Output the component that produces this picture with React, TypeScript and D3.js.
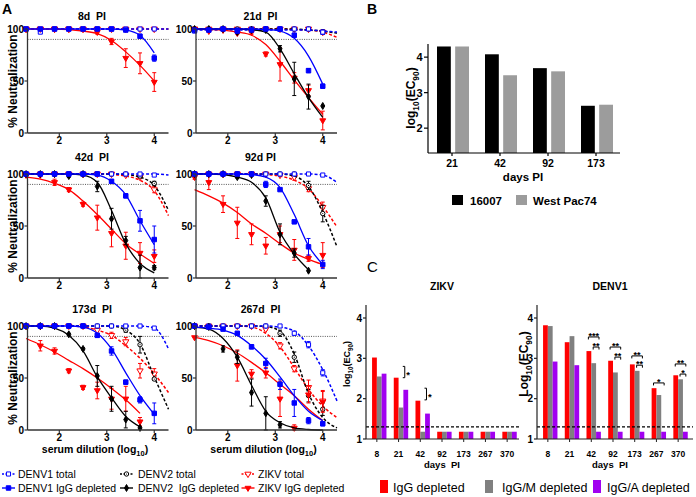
import React from 'react';
import * as d3 from 'd3';

const _ = null;
const FONT = "'Liberation Sans', Arial, Helvetica, sans-serif";

// ---------- Panel A data ----------
const DIL = [1.3, 1.6, 1.9, 2.2, 2.5, 2.8, 3.1, 3.4, 3.7, 4.0];
const FIT_X = [1.3, 1.6, 1.9, 2.2, 2.5, 2.8, 3.1, 3.4, 3.7, 4.0, 4.3];
const X_TICKS_A = [2, 3, 4];
const Y_TICKS_A = [0, 50, 100];

// 8d PI
const d8_D1tot = [100, 97, 100, 100, 100, 100, 100, 100, 100, 100];
const d8_D1tot_fit = [100, 100, 100, 100, 100, 100, 100, 100, 100, 100, 100];
const d8_D1igg = [100, 100, 100, 100, 100, 100, 100, 99, 93, 72];
const d8_D1igg_err = [0, 0, 0, 0, 0, 0, 0, 1, 2, 3];
const d8_D1igg_fit = [100, 100, 100, 100, 100, 100, 100, 99, 94, 77, _];
const d8_ZKtot = [100, 100, 100, 100, 100, 100, 100, 100, 100, 100];
const d8_ZKtot_fit = [100, 100, 100, 100, 100, 100, 100, 100, 100, 100, 100];
const d8_ZKigg = [100, 100, 100, 100, 100, 97, 88, 72, 67, 49];
const d8_ZKigg_err = [0, 0, 0, 0, 0, 2, 3, 9, 10, 9];
const d8_ZKigg_fit = [100, 100, 100, 99.5, 98, 95.5, 89, 78, 65, 50, _];

// 21d PI
const d21_D1tot = [98, 99, 100, 99, 100, 100, 100, 100, 100, 97];
const d21_D1tot_err = [0, 0, 0, 0, 0, 0, 0, 0, 0, 2];
const d21_D1tot_fit = [99, 99, 99, 99, 99, 99, 99, 99, 99, 98, 97];
const d21_D1igg = [99, 99, 100, 98, 99, 100, 100, 94, 60, 45];
const d21_D1igg_err = [1, 1, 0, 1, 0, 0, 0, 2, 2, 2];
const d21_D1igg_fit = [100, 100, 100, 100, 100, 99.5, 98, 91, 74, 47, _];
const d21_D2tot = [100, 100, 100, 100, 100, 100, 100, 100, 100, 97];
const d21_D2tot_err = [0, 0, 0, 0, 0, 0, 0, 0, 0, 2];
const d21_D2tot_fit = [100, 100, 100, 100, 100, 100, 100, 100, 99, 98, 96];
const d21_D2igg = [100, 100, 100, 97, 99, 99, 81, 52, 35, 26];
const d21_D2igg_err = [0, 0, 0, 1, 0, 0, 3, 16, 12, 0];
const d21_D2igg_fit = [100, 100, 100, 100, 99.5, 97, 81, 57, 34, 15, _];
const d21_ZKtot = [100, 100, 100, 100, 100, 100, 100, 100, 100, 97];
const d21_ZKtot_err = [0, 0, 0, 0, 0, 0, 0, 0, 0, 2];
const d21_ZKtot_fit = [100, 100, 100, 100, 100, 100, 100, 99.5, 99, 97, 92];
const d21_ZKigg = [100, 98, 99, 96, 97, 76, 66, 53, 41, 12];
const d21_ZKigg_err = [0, 1, 1, 1, 2, 2, 16, 5, 5, 9];
const d21_ZKigg_fit = [100, 99.5, 99, 97, 94, 85, 69, 51, 34, 18, _];

// 42d PI
const d42_D1tot = [100, 100, 100, 100, 100, 100, 100, 100, 100, 99];
const d42_D1tot_fit = [100, 100, 100, 100, 100, 100, 100, 100, 100, 100, 99];
const d42_D1igg = [100, 100, 100, 100, 100, 100, 93, 79, 55, 37];
const d42_D1igg_err = [0, 0, 0, 0, 0, 0, 1, 2, 10, 13];
const d42_D1igg_fit = [100, 100, 100, 100, 100, 99, 93, 80, 55, 32, _];
const d42_D2tot = [100, 100, 100, 100, 100, 100, 100, 100, 98, 91];
const d42_D2tot_err = [0, 0, 0, 0, 0, 0, 0, 0, 1, 2];
const d42_D2tot_fit = [100, 100, 100, 100, 100, 100, 100, 99.5, 97, 89, 65];
const d42_D2igg = [100, 100, 100, 98, 100, 88, 57, 36, 10, 10];
const d42_D2igg_err = [0, 0, 0, 1, 0, 5, 10, 4, 12, 2];
const d42_D2igg_fit = [100, 100, 100, 100, 99, 92, 65, 33, 14, 5, _];
const d42_ZKtot = [100, 100, 100, 100, 100, 100, 100, 99, 97, 85];
const d42_ZKtot_err = [0, 0, 0, 0, 0, 0, 0, 0, 1, 3];
const d42_ZKtot_fit = [100, 100, 100, 100, 100, 100, 99.5, 98, 94, 84, 60];
const d42_ZKigg = [99, 99, 92, 85, 71, 58, 43, 31, 24, 21];
const d42_ZKigg_err = [0, 0, 3, 2, 2, 12, 13, 13, 10, 6];
const d42_ZKigg_fit = [97, 95, 91, 85, 74, 61, 47, 33, 23, 14, _];

// 92d PI
const d92_D1tot = [100, 100, 100, 100, 100, 100, 100, 100, 100, 99];
const d92_D1tot_fit = [100, 100, 100, 100, 100, 100, 100, 100, 100, 99, 92];
const d92_D1igg = [100, 100, 100, 100, 100, 90, 85, 54, 30, 13];
const d92_D1igg_err = [0, 0, 0, 0, 0, 3, 1, 1, 8, 4];
const d92_D1igg_fit = [100, 100, 100, 100, 99.5, 97, 87, 61, 31, 13, _];
const d92_D2tot = [100, 100, 100, 100, 100, 100, 100, 100, 89, 62];
const d92_D2tot_err = [0, 0, 0, 0, 0, 0, 0, 0, 4, 8];
const d92_D2tot_fit = [100, 100, 100, 100, 100, 100, 100, 98, 88, 63, 30];
const d92_D2igg = [100, 100, 100, 97, 99, 74, 42, 24, 7, _];
const d92_D2igg_err = [0, 0, 0, 1, 0, 5, 10, 4, 0, 0];
const d92_D2igg_fit = [100, 100, 99.5, 97, 92, 77, 44, 23, 8, _, _];
const d92_ZKtot = [100, 100, 100, 100, 100, 100, 99, 97, 86, 68];
const d92_ZKtot_err = [0, 0, 0, 0, 0, 0, 0, 3, 3, 5];
const d92_ZKtot_fit = [100, 100, 100, 100, 100, 99.5, 98, 94, 86, 69, 49];
const d92_ZKigg = [97, 92, 71, 53, 42, 31, 42, 27, 19, 22];
const d92_ZKigg_err = [2, 7, 8, 15, 10, 8, 8, 10, 3, 12];
const d92_ZKigg_fit = [85, 79, 72, 63, 52, 43, 33, 24, 18, 13, _];

// 173d PI
const d173_D1tot = [100, 100, 100, 100, 100, 100, 100, 100, 100, 98];
const d173_D1tot_fit = [100, 100, 100, 100, 100, 100, 100, 100, 100, 98, 78];
const d173_D1igg = [100, 100, 100, 100, 100, 91, 76, 46, 29, 16];
const d173_D1igg_err = [0, 0, 0, 0, 0, 2, 4, 2, 3, 10];
const d173_D1igg_fit = [100, 100, 100, 100, 99, 93, 78, 55, 33, 15, _];
const d173_D2tot = [100, 100, 100, 100, 100, 100, 100, 96, 82, 49];
const d173_D2tot_err = [0, 0, 0, 0, 0, 0, 0, 2, 8, 1];
const d173_D2tot_fit = [100, 100, 100, 100, 100, 100, 100, 96, 83, 51, 20];
const d173_D2igg = [100, 100, 100, 92, 78, 52, 30, 10, 2, _];
const d173_D2igg_err = [0, 0, 0, 1, 1, 10, 12, 8, 1, 0];
const d173_D2igg_fit = [100, 100, 98, 91, 76, 51, 31, 13, 3, _, _];
const d173_ZKtot = [100, 100, 100, 100, 100, 96, 91, 85, 57, 54];
const d173_ZKtot_err = [0, 0, 0, 2, 0, 0, 3, 4, 7, 5];
const d173_ZKtot_fit = [100, 100, 100, 100, 99, 96, 91, 81, 69, 54, 36];
const d173_ZKigg = [_, 81, 76, 57, 41, 38, 30, 30, 8, _];
const d173_ZKigg_err = [0, 5, 3, 2, 2, 8, 10, 12, 4, 0];
const d173_ZKigg_fit = [88, 82, 75, 67, 59, 50, 40, 29, 16, _, _];

// 267d PI
const d267_D1tot = [100, 100, 100, 100, 100, 100, 100, 93, 82, 55];
const d267_D1tot_err = [0, 0, 0, 0, 0, 0, 0, 2, 3, 3];
const d267_D1tot_fit = [100, 100, 100, 100, 100, 100, 99, 95, 81, 58, 28];
const d267_D1igg = [100, 99, 97, 93, 80, 64, 44, 26, 9, 6];
const d267_D1igg_err = [0, 1, 1, 1, 2, 5, 5, 13, 3, 2];
const d267_D1igg_fit = [99, 98, 96, 91, 81, 68, 51, 33, 18, 9, _];
const d267_D2tot = [100, 100, 100, 100, 100, 100, 93, 70, 33, 20];
const d267_D2tot_err = [0, 0, 0, 0, 0, 0, 3, 5, 6, 6];
const d267_D2tot_fit = [100, 100, 100, 100, 100, 99.5, 95, 73, 35, 12, 2];
const d267_D2igg = [100, 99, 78, 70, 36, 16, 5, _, _, _];
const d267_D2igg_err = [0, 0, 3, 6, 13, 16, 3, 0, 0, 0];
const d267_D2igg_fit = [99, 97, 88, 70, 43, 18, 7, 2, 0.5, 0, _];
const d267_ZKtot = [100, 100, 100, 100, 100, 97, 81, 59, 41, 28];
const d267_ZKtot_err = [0, 0, 0, 0, 0, 1, 3, 3, 7, 10];
const d267_ZKtot_fit = [100, 100, 100, 100, 99, 93, 80, 60, 39, 23, 12];
const d267_ZKigg = [89, _, _, 62, 54, 55, 30, 2, 34, 27];
const d267_ZKigg_err = [0, 0, 0, 15, 4, 5, 17, 3, 8, 10];
const d267_ZKigg_fit = [89, 86, 81, 74, 65, 55, 44, 33, 20, 9, _];

const LEGEND_A = [
  ['D1tot', 'DENV1 total'], ['D1igg', 'DENV1 IgG depleted'],
  ['D2tot', 'DENV2 total'], ['D2igg', 'DENV2  IgG depleted'],
  ['ZKtot', 'ZIKV total'], ['ZKigg', 'ZIKV IgG depleted'],
];

// ---------- Panel B data ----------
const B_DAYS = ['21', '42', '92', '173'];
const B_16007 = [4.3, 4.08, 3.69, 2.63];
const B_WESTPAC74 = [4.3, 3.49, 3.6, 2.66];
const B_TICKS = [2, 3, 4];

// ---------- Panel C data ----------
const C_DAYS = ['8', '21', '42', '92', '173', '267', '370'];
const C_TICKS = [1, 2, 3, 4];
const C_LOD = 1.3;
const ZIKV_IGG = [3.02, 2.52, 1.95, 1.18, 1.18, 1.18, 1.18];
const ZIKV_IGGM = [2.55, 1.78, 1.18, 1.18, 1.18, 1.18, 1.18];
const ZIKV_IGGA = [2.62, 2.22, 1.63, 1.18, 1.18, 1.18, 1.18];
const DENV1_IGG = [3.82, 3.4, 3.18, 2.94, 2.85, 2.26, 2.58];
const DENV1_IGGM = [3.8, 3.55, 2.88, 2.65, 2.69, 2.09, 2.48];
const DENV1_IGGA = [2.92, 2.83, 1.18, 1.18, 1.18, 1.18, 1.18];
const ZIKV_SIG = [
  { cat: '21', lo: 2.52, hi: 2.8, label: '*' },
  { cat: '42', lo: 1.97, hi: 2.26, label: '*' },
];
const DENV1_SIG = [
  { cat: '42', from: 0, to: 2, y: 3.53, label: '***' },
  { cat: '42', from: 1, to: 2, y: 3.28, label: '**' },
  { cat: '92', from: 0, to: 2, y: 3.28, label: '**' },
  { cat: '92', from: 1, to: 2, y: 3.03, label: '**' },
  { cat: '173', from: 0, to: 2, y: 3.06, label: '**' },
  { cat: '173', from: 1, to: 2, y: 2.83, label: '**' },
  { cat: '267', from: 0, to: 2, y: 2.39, label: '*' },
  { cat: '370', from: 0, to: 2, y: 2.86, label: '**' },
  { cat: '370', from: 1, to: 2, y: 2.61, label: '*' },
];
const C_GROUPS = ['IgG depleted', 'IgG/M depleted', 'IgG/A depleted'];
const C_COLORS = ['#ff0000', '#808080', '#a100f0'];

// ---------- styles & layout ----------
const STYLE: Record<string, any> = {
  D1tot: { color: '#0000ff', dashed: true, sym: 'square', filled: false },
  D1igg: { color: '#0000ff', dashed: false, sym: 'square', filled: true },
  D2tot: { color: '#000000', dashed: true, sym: 'circle', filled: false },
  D2igg: { color: '#000000', dashed: false, sym: 'diamond', filled: true },
  ZKtot: { color: '#ff0000', dashed: true, sym: 'tri', filled: false },
  ZKigg: { color: '#ff0000', dashed: false, sym: 'tri', filled: true },
};
const DRAW_ORDER = ['ZKtot', 'D2tot', 'D1tot', 'ZKigg', 'D2igg', 'D1igg'];

const COLS = [{ x0: 27.5, x1: 168.5 }, { x0: 196, x1: 337 }];
const ROWS = [
  { top: 29, bot: 133, title: 19.5 },
  { top: 174, bot: 278, title: 161 },
  { top: 326, bot: 430, title: 313 },
];

const PANELS = [
  { title: '8d  PI', col: 0, row: 0, s: {
    D1tot: [d8_D1tot, null, d8_D1tot_fit], D1igg: [d8_D1igg, d8_D1igg_err, d8_D1igg_fit],
    ZKtot: [d8_ZKtot, null, d8_ZKtot_fit], ZKigg: [d8_ZKigg, d8_ZKigg_err, d8_ZKigg_fit] } },
  { title: '21d  PI', col: 1, row: 0, s: {
    D1tot: [d21_D1tot, d21_D1tot_err, d21_D1tot_fit], D1igg: [d21_D1igg, d21_D1igg_err, d21_D1igg_fit],
    D2tot: [d21_D2tot, d21_D2tot_err, d21_D2tot_fit], D2igg: [d21_D2igg, d21_D2igg_err, d21_D2igg_fit],
    ZKtot: [d21_ZKtot, d21_ZKtot_err, d21_ZKtot_fit], ZKigg: [d21_ZKigg, d21_ZKigg_err, d21_ZKigg_fit] } },
  { title: '42d  PI', col: 0, row: 1, s: {
    D1tot: [d42_D1tot, null, d42_D1tot_fit], D1igg: [d42_D1igg, d42_D1igg_err, d42_D1igg_fit],
    D2tot: [d42_D2tot, d42_D2tot_err, d42_D2tot_fit], D2igg: [d42_D2igg, d42_D2igg_err, d42_D2igg_fit],
    ZKtot: [d42_ZKtot, d42_ZKtot_err, d42_ZKtot_fit], ZKigg: [d42_ZKigg, d42_ZKigg_err, d42_ZKigg_fit] } },
  { title: '92d PI', col: 1, row: 1, s: {
    D1tot: [d92_D1tot, null, d92_D1tot_fit], D1igg: [d92_D1igg, d92_D1igg_err, d92_D1igg_fit],
    D2tot: [d92_D2tot, d92_D2tot_err, d92_D2tot_fit], D2igg: [d92_D2igg, d92_D2igg_err, d92_D2igg_fit],
    ZKtot: [d92_ZKtot, d92_ZKtot_err, d92_ZKtot_fit], ZKigg: [d92_ZKigg, d92_ZKigg_err, d92_ZKigg_fit] } },
  { title: '173d  PI', col: 0, row: 2, s: {
    D1tot: [d173_D1tot, null, d173_D1tot_fit], D1igg: [d173_D1igg, d173_D1igg_err, d173_D1igg_fit],
    D2tot: [d173_D2tot, d173_D2tot_err, d173_D2tot_fit], D2igg: [d173_D2igg, d173_D2igg_err, d173_D2igg_fit],
    ZKtot: [d173_ZKtot, d173_ZKtot_err, d173_ZKtot_fit], ZKigg: [d173_ZKigg, d173_ZKigg_err, d173_ZKigg_fit] } },
  { title: '267d  PI', col: 1, row: 2, s: {
    D1tot: [d267_D1tot, d267_D1tot_err, d267_D1tot_fit], D1igg: [d267_D1igg, d267_D1igg_err, d267_D1igg_fit],
    D2tot: [d267_D2tot, d267_D2tot_err, d267_D2tot_fit], D2igg: [d267_D2igg, d267_D2igg_err, d267_D2igg_fit],
    ZKtot: [d267_ZKtot, d267_ZKtot_err, d267_ZKtot_fit], ZKigg: [d267_ZKigg, d267_ZKigg_err, d267_ZKigg_fit] } },
];

function Marker({ kind, cx, cy }: { kind: string; cx: number; cy: number }) {
  const st = STYLE[kind];
  const fill = st.filled ? st.color : '#ffffff';
  if (st.sym === 'circle') {
    return <g><circle cx={cx} cy={cy} r={2.2} fill="#fff" stroke={st.color} strokeWidth={1} /><circle cx={cx} cy={cy} r={0.6} fill={st.color} /></g>;
  }
  let type: any = d3.symbolSquare;
  let size = st.filled ? 20 : 17;
  let rot = '';
  if (st.sym === 'diamond') { type = d3.symbolDiamond; size = 14; }
  if (st.sym === 'tri') { type = d3.symbolTriangle; size = st.filled ? 15 : 17; rot = ' rotate(180)'; }
  const p = d3.symbol().type(type).size(size)() as string;
  return <path d={p} transform={`translate(${cx},${cy})${rot}`} fill={fill} stroke={st.color} strokeWidth={1} />;
}

function LogEC({ fs }: { fs: number }) {
  const d = fs * 0.3;
  return (
    <>
      <tspan>log</tspan>
      <tspan fontSize={fs * 0.7} dy={d}>10</tspan>
      <tspan dy={-d}>(EC</tspan>
      <tspan fontSize={fs * 0.7} dy={d}>90</tspan>
      <tspan dy={-d}>)</tspan>
    </>
  );
}

function NeutPanel({ p }: { p: any }) {
  const c = COLS[p.col];
  const r = ROWS[p.row];
  const x = d3.scaleLinear().domain([1.33, 4.3]).range([c.x0, c.x1]);
  const y = d3.scaleLinear().domain([0, 100]).range([r.bot, r.top]);
  const line = d3.line<[number, number | null]>()
    .defined((d) => d[1] != null)
    .x((d) => x(d[0]))
    .y((d) => y(d[1] as number))
    .curve(d3.curveMonotoneX);
  const axisColor = '#333';
  return (
    <g>
      <text x={(c.x0 + c.x1) / 2 - 6} y={r.title} textAnchor="middle" fontSize={10.5} fontWeight="bold" style={{ whiteSpace: 'pre' }}>{p.title}</text>
      <line x1={c.x0} x2={c.x1} y1={y(90)} y2={y(90)} stroke="#555" strokeWidth={1} strokeDasharray="1,1.3" />
      {DRAW_ORDER.filter((k) => p.s[k]).map((k) => {
        const [vals, err, fit] = p.s[k];
        const st = STYLE[k];
        const fitPts = FIT_X.map((fx, i) => [fx, fit[i]] as [number, number | null]);
        return (
          <g key={k}>
            <path d={line(fitPts) as string} fill="none" stroke={st.color}
              strokeWidth={st.dashed ? 1.5 : 1.3} strokeDasharray={st.dashed ? '3,2' : undefined} />
            {DIL.map((dx, i) => {
              const v = vals[i];
              const e = err ? err[i] : 0;
              if (v == null || !e) return null;
              const cx = x(dx);
              const lo = y(Math.max(0, v - e));
              const hi = y(Math.min(100, v + e));
              return (
                <g key={i} stroke={st.color} strokeWidth={1}>
                  <line x1={cx} x2={cx} y1={lo} y2={hi} />
                  <line x1={cx - 2} x2={cx + 2} y1={lo} y2={lo} />
                  <line x1={cx - 2} x2={cx + 2} y1={hi} y2={hi} />
                </g>
              );
            })}
            {DIL.map((dx, i) => (vals[i] == null ? null : <Marker key={'m' + i} kind={k} cx={x(dx)} cy={y(vals[i])} />))}
          </g>
        );
      })}
      <line x1={c.x0} x2={c.x0} y1={r.top} y2={r.bot} stroke={axisColor} strokeWidth={1.3} />
      <line x1={c.x0} x2={c.x1} y1={r.bot} y2={r.bot} stroke={axisColor} strokeWidth={1.3} />
      {Y_TICKS_A.map((t) => (
        <g key={t}>
          <line x1={c.x0 - 3} x2={c.x0} y1={y(t)} y2={y(t)} stroke={axisColor} strokeWidth={1.2} />
          <text x={c.x0 - 3.5} y={y(t) + 3.5} textAnchor="end" fontSize={10} fontWeight="bold">{t}</text>
        </g>
      ))}
      {X_TICKS_A.map((t) => (
        <g key={t}>
          <line x1={x(t)} x2={x(t)} y1={r.bot} y2={r.bot + 3} stroke={axisColor} strokeWidth={1.2} />
          <text x={x(t)} y={r.bot + 11} textAnchor="middle" fontSize={10} fontWeight="bold">{t}</text>
        </g>
      ))}
      {p.col === 0 && (
        <text transform={`translate(16.5,${(r.top + r.bot) / 2}) rotate(-90)`} textAnchor="middle" fontSize={12} fontWeight="bold">% Neutralization</text>
      )}
      {p.row === 2 && (
        <text x={(c.x0 + c.x1) / 2 - 3} y={453} textAnchor="middle" fontSize={10.5} fontWeight="bold">
          <tspan>serum dilution (log</tspan>
          <tspan fontSize={7.5} dy={3}>10</tspan>
          <tspan dy={-3}>)</tspan>
        </text>
      )}
    </g>
  );
}

function LegendA() {
  const colsX = [8.5, 126.5, 248];
  const textX = [18, 138, 258];
  const rowsY = [474, 488];
  return (
    <g>
      {LEGEND_A.map(([k, label], i) => {
        const ci = Math.floor(i / 2);
        const ri = i % 2;
        const st = STYLE[k];
        const cx = colsX[ci];
        const cy = rowsY[ri];
        return (
          <g key={k}>
            <line x1={cx - 6.5} x2={cx + 6.5} y1={cy} y2={cy} stroke={st.color} strokeWidth={1.4} strokeDasharray={st.dashed ? '2,1.5' : undefined} />
            <Marker kind={k} cx={cx} cy={cy} />
            <text x={textX[ci]} y={cy + 4} fontSize={10.5} style={{ whiteSpace: 'pre' }}>{label}</text>
          </g>
        );
      })}
    </g>
  );
}

function PanelB() {
  const x0 = 428, x1 = 620, top = 44, bot = 153;
  const y = d3.scaleLinear().domain([1.3, 4.37]).range([bot, top]);
  const xb = d3.scaleBand().domain(B_DAYS).range([x0, x1]);
  const inner = d3.scaleBand().domain(['16007', 'WP']).range([-15, 17]).paddingInner(0.24);
  return (
    <g>
      {B_DAYS.map((d, i) => {
        const c = (xb(d) as number) + xb.bandwidth() / 2;
        return (
          <g key={d}>
            <rect x={c + (inner('16007') as number)} width={inner.bandwidth()} y={y(B_16007[i])} height={bot - y(B_16007[i])} fill="#000" />
            <rect x={c + (inner('WP') as number)} width={inner.bandwidth()} y={y(B_WESTPAC74[i])} height={bot - y(B_WESTPAC74[i])} fill="#9c9c9c" />
            <line x1={c} x2={c} y1={bot} y2={bot + 3} stroke="#000" strokeWidth={1.2} />
            <text x={c} y={167} textAnchor="middle" fontSize={10.5} fontWeight="bold">{d}</text>
          </g>
        );
      })}
      <line x1={x0} x2={x0} y1={top} y2={bot} stroke="#000" strokeWidth={1.2} />
      <line x1={x0} x2={x1} y1={bot} y2={bot} stroke="#000" strokeWidth={1.2} />
      {B_TICKS.map((t) => (
        <g key={t}>
          <line x1={x0 - 4} x2={x0} y1={y(t)} y2={y(t)} stroke="#000" strokeWidth={1.2} />
          <text x={x0 - 5.5} y={y(t) + 4} textAnchor="end" fontSize={11} fontWeight="bold">{t}</text>
        </g>
      ))}
      <text transform={`translate(415,98) rotate(-90)`} textAnchor="middle" fontSize={12} fontWeight="bold"><LogEC fs={12} /></text>
      <text x={523} y={181} textAnchor="middle" fontSize={11.5} fontWeight="bold">days PI</text>
      <rect x={452} y={195} width={11} height={10} fill="#000" />
      <text x={470} y={205} fontSize={11.5} fontWeight="bold">16007</text>
      <rect x={516} y={195} width={11} height={10} fill="#9c9c9c" />
      <text x={533} y={205} fontSize={11.5} fontWeight="bold">West Pac74</text>
    </g>
  );
}

function BarPanelC({ x0, x1, title, titleX, data, sig, vsig, ylabel, ylabelX, ylabelFs }: any) {
  const top = 305, bot = 439;
  const y = d3.scaleLinear().domain([1, 4]).range([bot, 318]);
  const xb = d3.scaleBand().domain(C_DAYS).range([x0, x0 + 152]);
  const inner = d3.scaleBand().domain(['0', '1', '2']).range([-4.8, 9.6]);
  const ctr = (d: string) => (xb(d) as number) + xb.bandwidth() / 2;
  const barC = (d: string, j: number) => ctr(d) + (inner(String(j)) as number) + inner.bandwidth() / 2;
  return (
    <g>
      <text x={titleX} y={290} textAnchor="middle" fontSize={10.5} fontWeight="bold">{title}</text>
      {C_DAYS.map((d, i) => (
        <g key={d}>
          {data.map((arr: number[], j: number) => (
            <rect key={j} x={ctr(d) + (inner(String(j)) as number)} width={inner.bandwidth()} y={y(arr[i])} height={bot - y(arr[i])} fill={C_COLORS[j]} />
          ))}
          <line x1={ctr(d)} x2={ctr(d)} y1={bot} y2={bot + 3} stroke="#222" strokeWidth={1} />
          <text x={ctr(d)} y={457} textAnchor="middle" fontSize={8.5} fontWeight="bold">{d}</text>
        </g>
      ))}
      <line x1={x0} x2={x1} y1={y(C_LOD)} y2={y(C_LOD)} stroke="#000" strokeWidth={1.2} strokeDasharray="3,2" />
      <line x1={x0} x2={x0} y1={top} y2={bot} stroke="#222" strokeWidth={1.2} />
      <line x1={x0} x2={x1} y1={bot} y2={bot} stroke="#222" strokeWidth={1.2} />
      {C_TICKS.map((t) => (
        <g key={t}>
          <line x1={x0 - 3} x2={x0} y1={y(t)} y2={y(t)} stroke="#222" strokeWidth={1.2} />
          <text x={x0 - 4} y={y(t) + 3.5} textAnchor="end" fontSize={10} fontWeight="bold">{t}</text>
        </g>
      ))}
      {sig && sig.map((s: any, k: number) => {
        const xa = barC(s.cat, s.from) - 0.5;
        const xbb = barC(s.cat, s.to) + 0.5;
        const yy = y(s.y);
        return (
          <g key={k}>
            <path d={`M${xa},${yy + 2.5}V${yy}H${xbb}V${yy + 2.5}`} fill="none" stroke="#000" strokeWidth={1} />
            <text x={(xa + xbb) / 2} y={yy + 2} textAnchor="middle" fontSize={9} fontWeight="bold">{s.label}</text>
          </g>
        );
      })}
      {vsig && vsig.map((s: any, k: number) => {
        const xx = barC(s.cat, 2) - 1;
        const ya = y(s.hi), yb = y(s.lo);
        return (
          <g key={k}>
            <path d={`M${xx - 2},${ya}H${xx}V${yb}H${xx - 2}`} fill="none" stroke="#000" strokeWidth={1} />
            <text x={xx + 1.5} y={(ya + yb) / 2 + 6} fontSize={9.5} fontWeight="bold">{s.label}</text>
          </g>
        );
      })}
      <text transform={`translate(${ylabelX},364) rotate(-90)`} textAnchor="middle" fontSize={ylabelFs} fontWeight="bold">
        <tspan>{ylabel}</tspan>
        <tspan fontSize={ylabelFs * 0.7} dy={ylabelFs * 0.3}>10</tspan>
        <tspan dy={-ylabelFs * 0.3}>(EC</tspan>
        <tspan fontSize={ylabelFs * 0.7} dy={ylabelFs * 0.3}>90</tspan>
        <tspan dy={-ylabelFs * 0.3}>)</tspan>
      </text>
      <text x={titleX} y={468} textAnchor="middle" fontSize={9.5} fontWeight="bold" style={{ whiteSpace: 'pre' }}>days  PI</text>
    </g>
  );
}

function LegendC() {
  const sx = [380, 485, 593];
  const tx = [393, 502, 607];
  return (
    <g>
      {C_GROUPS.map((g, i) => (
        <g key={g}>
          <rect x={sx[i]} y={480} width={8} height={13} fill={C_COLORS[i]} />
          <text x={tx[i]} y={492} fontSize={12.5}>{g}</text>
        </g>
      ))}
    </g>
  );
}

export default function App() {
  return (
    <svg width={696} height={497} viewBox="0 0 696 497"
      style={{ position: 'absolute', left: 0, top: 0, background: '#fff', fontFamily: FONT }}>
      <rect width={696} height={497} fill="#fff" />
      <text x={2} y={14} fontSize={14} fontWeight="bold">A</text>
      <text x={367} y={14} fontSize={14} fontWeight="bold">B</text>
      <text x={367} y={272} fontSize={15}>C</text>
      {PANELS.map((p) => <NeutPanel key={p.title} p={p} />)}
      <LegendA />
      <PanelB />
      <BarPanelC x0={366} x1={519} title="ZIKV" titleX={442} data={[ZIKV_IGG, ZIKV_IGGM, ZIKV_IGGA]}
        vsig={ZIKV_SIG} ylabel="log" ylabelX={350} ylabelFs={9} />
      <BarPanelC x0={537} x1={693} title="DENV1" titleX={610} data={[DENV1_IGG, DENV1_IGGM, DENV1_IGGA]}
        sig={DENV1_SIG} ylabel="Log" ylabelX={528} ylabelFs={12} />
      <LegendC />
    </svg>
  );
}
